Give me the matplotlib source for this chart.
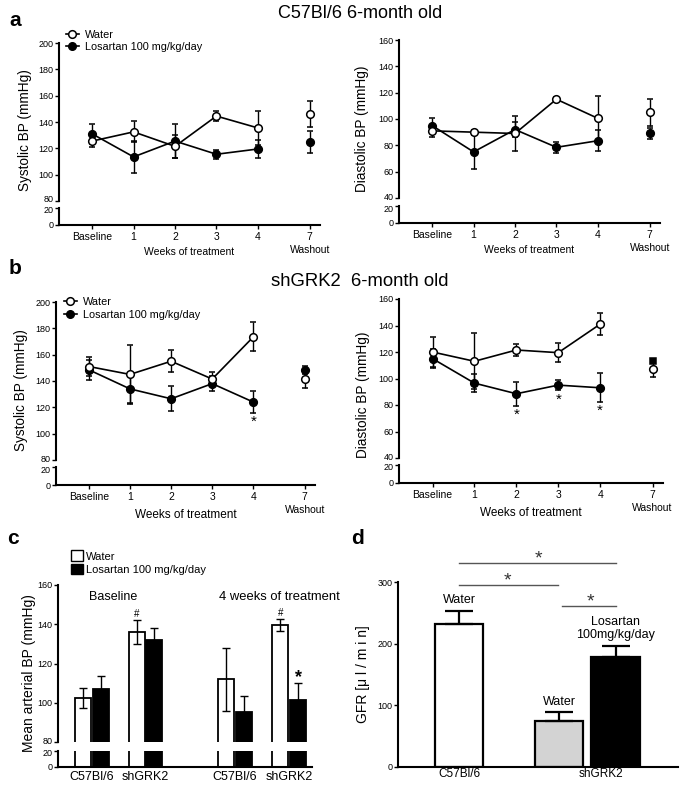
import matplotlib
matplotlib.use("Agg")
from matplotlib import pyplot as plt
from matplotlib.lines import Line2D
from matplotlib.patches import Patch
import matplotlib.transforms as mtransforms

plt.rcParams['font.family'] = ['Liberation Sans', 'DejaVu Sans']
plt.rcParams['axes.linewidth'] = 1.5

"""
Blood pressure time courses (a, b), mean arterial BP bars (c) and GFR bars (d).
"""

week_labels = ["Baseline", "1", "2", "3", "4", "7\nWashout"]
week_pos = [0, 1, 2, 3, 4, 5.25]

# a: C57Bl/6
a_sys_water = [125.5, 132.5, 121.5, 144.5, 135.5, 146]
a_sys_water_err = [4.5, 8, 8.5, 4, 13, 10]
a_sys_los = [131, 113.5, 125.5, 115.5, 119.5, 125]
a_sys_los_err = [7.5, 12, 13, 3.5, 7, 8.5]

a_dia_water = [91, 90, 89, 115, 100.5, 105]
a_dia_water_err = [4.5, 1.5, 13, 1.5, 17, 10.5]
a_dia_los = [95, 75, 92, 78.5, 83.5, 89]
a_dia_los_err = [5.5, 13, 6, 4, 8, 4]

# b: shGRK2
b_sys_water = [151, 145, 155, 141.5, 173.5, 141.5]
b_sys_water_err = [7, 22.5, 8.5, 5, 11, 6.5]
b_sys_los = [148.5, 134, 126.5, 138, 124, 148.5]
b_sys_los_err = [7.5, 11, 9.5, 5.5, 8.5, 3]
b_sys_stars = [4]

b_dia_water = [120, 113, 121.5, 119.5, 141, 107.5]
b_dia_water_err = [11, 21, 4.7, 7, 8.2, 6.7]
b_dia_los = [115, 96.5, 88.5, 95, 93, 113.5]
b_dia_los_err = [7, 7, 9, 4, 10.8, 1.5]
b_dia_stars = [2, 3, 4]

# c: mean arterial BP, groups = C57 baseline, shGRK2 baseline, C57 4wk, shGRK2 4wk
c_groups = ["C57Bl/6", "shGRK2", "C57Bl/6", "shGRK2"]
c_group_pos = [0, 3.15, 8.4, 11.6]
c_water = [102.5, 136, 112, 139.5]
c_water_err = [5, 6, 16, 3]
c_los = [107, 132, 95.5, 101.5]
c_los_err = [6.5, 6, 8, 8.5]

# d: GFR
d_labels = ["Water", "Water", "Losartan\n100mg/kg/day"]
d_pos = [0, 1.64, 2.57]
d_values = [232, 75, 178]
d_err = [21, 14, 19]
d_colors = ["white", "#d3d3d3", "black"]

W, H = 685, 786


def px_axes(fig, x0, y_top, x1, y_bot):
    """
    Adds axes given in pixel coordinates of the final picture
    """
    return fig.add_axes([x0 / W, 1 - y_bot / H, (x1 - x0) / W, (y_bot - y_top) / H])


def style_axes(ax, bottom=True):
    ax.spines['top'].set_visible(False)
    ax.spines['right'].set_visible(False)
    ax.spines['bottom'].set_visible(bottom)
    ax.tick_params(axis='y', labelsize=6.5, length=3, width=1, pad=1)


def nudge(label, fig, dy_px):
    label.set_transform(label.get_transform()
                        + mtransforms.ScaledTranslation(0, dy_px / 100, fig.dpi_scale_trans))


def broken_pair(fig, top_rect, bot_rect, ylim, yticks, xlim):
    ax_t = px_axes(fig, *top_rect)
    ax_b = px_axes(fig, *bot_rect)
    style_axes(ax_t, bottom=False)
    style_axes(ax_b)
    ax_t.set_ylim(*ylim)
    ax_t.set_yticks(yticks)
    ax_t.set_xticks([])
    ax_t.set_xlim(*xlim)
    ax_b.set_xlim(*xlim)
    ax_b.set_ylim(0, 20)
    ax_b.set_yticks([0, 20])
    # keep the labels at the break from running into each other
    nudge(ax_t.yaxis.get_major_ticks()[0].label1, fig, 2)
    nudge(ax_b.yaxis.get_major_ticks()[1].label1, fig, -2)
    ax_t.patch.set_alpha(0)
    ax_b.patch.set_alpha(0)
    return ax_t, ax_b


def line_panel(fig, top_rect, bot_rect, ylim, yticks, water, water_err, los, los_err,
               ylabel, label_coords, xlabel_size, xlabel_y, stars=(), los_wash_marker='o'):
    """
    Draws one broken-axis time course with Water and Losartan series
    """
    ax_t, ax_b = broken_pair(fig, top_rect, bot_rect, ylim, yticks, (-0.8, 5.5))
    kw = dict(color='k', lw=1.2, mew=1.1, capsize=2.5, elinewidth=1, capthick=1)
    wash_ms = 4.5 if los_wash_marker == 's' else 5.5
    ax_t.errorbar(week_pos[:5], los[:5], yerr=los_err[:5], fmt='-o', mfc='k', ms=5.5, zorder=3, **kw)
    ax_t.errorbar(week_pos[5], los[5], yerr=los_err[5], fmt=los_wash_marker, mfc='k', ms=wash_ms,
                  zorder=3, **kw)
    ax_t.errorbar(week_pos[:5], water[:5], yerr=water_err[:5], fmt='-o', mfc='white', ms=5.5,
                  zorder=4, **kw)
    ax_t.errorbar(week_pos[5], water[5], yerr=water_err[5], fmt='o', mfc='white', ms=5.5,
                  zorder=4, **kw)
    for i in stars:
        ax_t.text(week_pos[i], los[i] - los_err[i] - 1.5, "*", ha='center', va='top', fontsize=11)
    ax_t.set_ylabel(ylabel, fontsize=9.8)
    ax_t.yaxis.set_label_coords(*label_coords)
    ax_b.set_xticks(week_pos)
    ax_b.set_xticklabels(week_labels, fontsize=7.5, linespacing=1.35, va='top')
    ax_b.tick_params(axis='x', length=3, width=1, pad=2)
    ax_b.set_xlabel("Weeks of treatment", fontsize=xlabel_size, labelpad=1)
    ax_b.xaxis.set_label_coords(0.5, xlabel_y)
    return ax_t, ax_b


def line_legend(ax, anchor):
    handles = [Line2D([], [], color='k', marker='o', mfc='white', ms=5.5, mew=1.1, lw=1.2),
               Line2D([], [], color='k', marker='o', mfc='k', ms=5.5, lw=1.2)]
    ax.legend(handles, ["Water", "Losartan 100 mg/kg/day"], loc='upper left', bbox_to_anchor=anchor,
              frameon=False, fontsize=7.8, handlelength=1.2, handletextpad=0.6,
              labelspacing=0.25, borderpad=0, borderaxespad=0)


fig = plt.figure(figsize=(W / 100, H / 100), dpi=100)

fig.text(9 / W, 1 - 20 / H, "a", fontsize=15, fontweight='bold', va='center', ha='left')
fig.text(360 / W, 1 - 13 / H, "C57Bl/6 6-month old", fontsize=13, ha='center', va='center')
fig.text(9 / W, 1 - 268 / H, "b", fontsize=15, fontweight='bold', va='center', ha='left')
fig.text(360 / W, 1 - 281 / H, "shGRK2  6-month old", fontsize=13.3, ha='center', va='center')
fig.text(7 / W, 1 - 538 / H, "c", fontsize=15, fontweight='bold', va='center', ha='left')
fig.text(351 / W, 1 - 538 / H, "d", fontsize=15, fontweight='bold', va='center', ha='left')

ax, _ = line_panel(fig, (59, 43, 320, 201), (59, 208, 320, 225), (80, 200), range(80, 201, 20),
                   a_sys_water, a_sys_water_err, a_sys_los, a_sys_los_err,
                   "Systolic BP (mmHg)", (-0.105, 0.45), 7.5, -1.3)
line_legend(ax, (0.025, 1.085))
line_panel(fig, (399, 40, 660, 198), (399, 206, 660, 223), (40, 160), range(40, 161, 20),
           a_dia_water, a_dia_water_err, a_dia_los, a_dia_los_err,
           "Diastolic BP (mmHg)", (-0.115, 0.44), 7.5, -1.3)

ax, _ = line_panel(fig, (56, 302, 315, 460), (56, 467, 315, 485), (80, 200), range(80, 201, 20),
                   b_sys_water, b_sys_water_err, b_sys_los, b_sys_los_err,
                   "Systolic BP (mmHg)", (-0.11, 0.44), 8.5, -1.35, stars=b_sys_stars)
line_legend(ax, (0.03, 1.03))
line_panel(fig, (399, 299, 663, 458), (399, 465, 663, 483), (40, 160), range(40, 161, 20),
           b_dia_water, b_dia_water_err, b_dia_los, b_dia_los_err,
           "Diastolic BP (mmHg)", (-0.11, 0.40), 8.5, -1.35, stars=b_dia_stars, los_wash_marker='s')

# c: mean arterial BP bars
ax_t, ax_b = broken_pair(fig, (58, 585, 312, 742), (58, 751, 312, 767), (80, 160),
                         range(80, 161, 20), (-2, 12.94))
water_x = [p - 0.52 for p in c_group_pos]
los_x = [p + 0.52 for p in c_group_pos]
for a in (ax_t, ax_b):
    a.bar(water_x, c_water, width=0.95, color='white', edgecolor='k', lw=1.3)
    a.bar(los_x, c_los, width=0.95, color='black', edgecolor='k', lw=1.3)
ekw = dict(fmt='none', ecolor='k', elinewidth=1, capsize=3, capthick=1)
ax_t.errorbar(water_x, c_water, yerr=c_water_err, **ekw)
ax_t.errorbar(los_x, c_los, yerr=c_los_err, **ekw)
for i in (1, 3):
    ax_t.text(water_x[i], c_water[i] + c_water_err[i] + 0.5, "#", ha='center', va='bottom', fontsize=7)
ax_t.text(los_x[3], c_los[3] + c_los_err[3] - 1.5, "*", ha='center', va='bottom',
          fontsize=13, fontweight='bold')
ax_t.text(1.24, 154, "Baseline", ha='center', va='center', fontsize=9)
ax_t.text(11.0, 154, "4 weeks of treatment", ha='center', va='center', fontsize=9.4)
ax_t.set_ylabel("Mean arterial BP (mmHg)", fontsize=10)
ax_t.yaxis.set_label_coords(-0.088, 0.44)
ax_b.set_xticks(c_group_pos)
ax_b.set_xticklabels(c_groups, fontsize=9)
ax_b.tick_params(axis='x', length=0, pad=3)
ax_t.legend([Patch(facecolor='white', edgecolor='k', lw=1), Patch(facecolor='black', edgecolor='k')],
            ["Water", "Losartan 100 mg/kg/day"], loc='upper left', bbox_to_anchor=(0.05, 1.22),
            frameon=False, fontsize=8, handlelength=1.1, handleheight=1.1, handletextpad=0.3,
            labelspacing=0.2, borderpad=0, borderaxespad=0)

# d: GFR bars
ax = px_axes(fig, 398, 582, 678, 767)
style_axes(ax)
ax.patch.set_alpha(0)
ax.bar(d_pos, d_values, width=0.8, color=d_colors, edgecolor='k', lw=1.6)
ax.errorbar(d_pos, d_values, yerr=[[0, 0, 0], d_err], fmt='none', ecolor='k',
            elinewidth=1.6, capsize=10, capthick=1.6)
ax.set_xlim(-1.0, 3.59)
ax.set_ylim(0, 300)
ax.set_yticks([0, 100, 200, 300])
ax.set_xticks([0, 2.33])
ax.set_xticklabels(["C57Bl/6", "shGRK2"], fontsize=8.5)
ax.tick_params(axis='x', length=0, pad=1)
ax.set_ylabel("GFR [μ l / m i n]", fontsize=10)
ax.yaxis.set_label_coords(-0.1, 0.5)
ax.text(d_pos[0], 271, d_labels[0], ha='center', va='center', fontsize=9)
ax.text(d_pos[1], 105, d_labels[1], ha='center', va='center', fontsize=9)
ax.text(d_pos[2], 224, d_labels[2], ha='center', va='center', fontsize=9, linespacing=1.1)
sig = [(0, 2.57, 331, 1.3), (0, 1.62, 295, 0.79), (1.69, 2.57, 261, 2.15)]
for x0, x1, y, xs in sig:
    ax.plot([x0, x1], [y, y], color='#555555', lw=1, clip_on=False)
    ax.text(xs, y - 7, "*", ha='center', va='bottom', fontsize=14, color='#333333', clip_on=False)

fig.savefig("out.png", dpi=100)
